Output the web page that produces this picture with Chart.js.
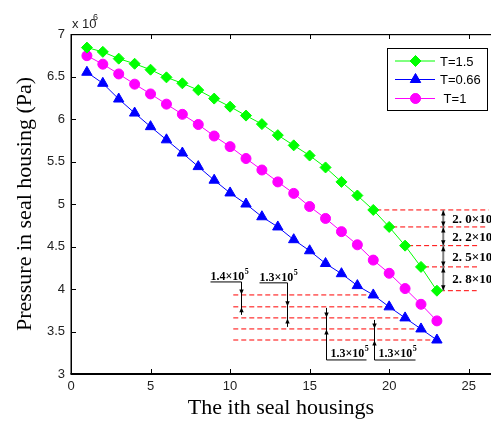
<!DOCTYPE html>
<html>
<head>
<meta charset="utf-8">
<script src="https://cdn.jsdelivr.net/npm/chart.js@4/dist/chart.umd.min.js"></script>
<style>
  html, body { margin: 0; padding: 0; background: #fff; overflow: hidden; }
  #wrap { width: 491px; height: 421px; }
</style>
</head>
<body>
<div id="wrap"><canvas id="pressureChart" width="491" height="421"></canvas></div>
<script>
// the ith seal housing
const housings = [1, 2, 3, 4, 5, 6, 7, 8, 9, 10, 11, 12, 13, 14, 15, 16, 17, 18, 19, 20, 21, 22, 23];

// pressure, x 10^6 Pa
const pressT15 = [6.84, 6.79, 6.71, 6.65, 6.58, 6.49, 6.42, 6.34, 6.24, 6.145, 6.04, 5.94,
  5.81, 5.69, 5.57, 5.43, 5.26, 5.10, 4.93, 4.73, 4.51, 4.26, 3.98];
const pressT066 = [6.55, 6.42, 6.235, 6.07, 5.91, 5.755, 5.60, 5.44, 5.28, 5.13, 5.0, 4.85,
  4.73, 4.58, 4.45, 4.30, 4.18, 4.04, 3.93, 3.79, 3.66, 3.53, 3.40];
const pressT1 = [6.745, 6.645, 6.53, 6.41, 6.295, 6.175, 6.055, 5.935, 5.80, 5.675, 5.535, 5.40,
  5.26, 5.125, 4.97, 4.83, 4.675, 4.52, 4.34, 4.185, 4.005, 3.82, 3.625];

const seriesLabels = ["T=1.5", "T=0.66", " T=1"];
const xTicks = [0, 5, 10, 15, 20, 25];
const yTicks = [3, 3.5, 4, 4.5, 5, 5.5, 6, 6.5, 7];

// pressure drop labels for the last housings
const dropLabelsT15 = ["2. 0×10", "2. 2×10", "2. 5×10", "2. 8×10"];
const dropLabelsT066 = ["1.4×10", "1.3×10", "1.3×10", "1.3×10"];

const serif = "'Liberation Serif', 'Times New Roman', serif";
const sans = "'Liberation Sans', Arial, sans-serif";

function arrowHead(ctx, x, y, dir) {
  // tip at (x, y); dir 1 = pointing down, -1 = pointing up
  ctx.beginPath();
  ctx.moveTo(x, y);
  ctx.lineTo(x - 2.2, y - dir * 5);
  ctx.lineTo(x + 2.2, y - dir * 5);
  ctx.closePath();
  ctx.fill();
}

function supText(ctx, base, sup, x, y, font, supFont) {
  ctx.font = font;
  ctx.fillText(base, x, y);
  const w = ctx.measureText(base).width;
  ctx.font = supFont;
  ctx.fillText(sup, x + w + 0.5, y - 6);
}

const annotations = {
  id: "pressureNotes",
  beforeDatasetsDraw(chart) {
    const ctx = chart.ctx;
    const xs = chart.scales.x, ys = chart.scales.y;
    ctx.save();

    // T=1.5 levels
    const gIdx = [18, 19, 20, 21, 22];
    const gEnds = [26.25, 26.15, 25.7, 25.7, 25.5];
    const gy = gIdx.map(i => ys.getPixelForValue(pressT15[i]));
    ctx.strokeStyle = "#ff0000";
    ctx.lineWidth = 1;
    ctx.setLineDash([5, 3]);
    gIdx.forEach((i, k) => {
      ctx.beginPath();
      ctx.moveTo(xs.getPixelForValue(housings[i]) + 3, gy[k]);
      ctx.lineTo(xs.getPixelForValue(gEnds[k]), gy[k]);
      ctx.stroke();
    });

    // T=0.66 levels
    const bIdx = [18, 19, 20, 21, 22];
    const by = bIdx.map(i => ys.getPixelForValue(pressT066[i]));
    bIdx.forEach((i, k) => {
      ctx.beginPath();
      ctx.moveTo(xs.getPixelForValue(10.2), by[k]);
      ctx.lineTo(xs.getPixelForValue(housings[i]), by[k]);
      ctx.stroke();
    });
    ctx.setLineDash([]);

    // gray dimension arrows for T=1.5
    const ax = xs.getPixelForValue(23.4);
    ctx.strokeStyle = "#808080";
    ctx.lineWidth = 2;
    ctx.beginPath();
    ctx.moveTo(ax, gy[0]);
    ctx.lineTo(ax, gy[4]);
    ctx.stroke();
    ctx.fillStyle = "#000";
    for (let k = 0; k < 4; k++) {
      arrowHead(ctx, ax, gy[k] + 0.5, -1);
      arrowHead(ctx, ax, gy[k + 1] - 0.5, 1);
    }
    ctx.textBaseline = "middle";
    ctx.textAlign = "left";
    const lx = xs.getPixelForValue(23.97);
    for (let k = 0; k < 4; k++) {
      const my = (gy[k] + gy[k + 1]) / 2 + 1;
      ctx.fillStyle = "#000";
      ctx.font = "bold 13px " + serif;
      ctx.fillText(dropLabelsT15[k], lx, my);
      const w = ctx.measureText(dropLabelsT15[k]).width;
      ctx.font = "bold 9px " + serif;
      ctx.fillText("5", lx + w + 0.5, my - 5);
    }

    // black dimension markers for T=0.66
    const bMarks = [
      { x: 10.67, top: by[0] - 13, bottom: by[1] + 8, labelAbove: true, lineLeft: 31 },
      { x: 13.56, top: by[1] - 24, bottom: by[2] + 9, labelAbove: true, lineLeft: 28 },
      { x: 16.03, top: by[2] - 10, bottom: by[3] + 31, labelAbove: false, lineRight: 40 },
      { x: 19.06, top: by[3] - 9, bottom: by[4] + 20, labelAbove: false, lineRight: 41 }
    ];
    ctx.strokeStyle = "#000";
    ctx.fillStyle = "#000";
    ctx.lineWidth = 1;
    ctx.textBaseline = "alphabetic";
    bMarks.forEach((m, k) => {
      const px = Math.round(xs.getPixelForValue(m.x)) + 0.5;
      ctx.beginPath();
      ctx.moveTo(px, m.top);
      ctx.lineTo(px, m.bottom);
      if (m.labelAbove) {
        ctx.moveTo(px - m.lineLeft, m.top);
        ctx.lineTo(px, m.top);
      } else {
        ctx.moveTo(px, m.bottom);
        ctx.lineTo(px + m.lineRight, m.bottom);
      }
      ctx.stroke();
      arrowHead(ctx, px, by[k] - 0.5, 1);
      arrowHead(ctx, px, by[k + 1] + 0.5, -1);
      const tx = m.labelAbove ? px - m.lineLeft : px + 4;
      const ty = m.labelAbove ? m.top - 2 : m.bottom - 3;
      supText(ctx, dropLabelsT066[k], "5", tx, ty, "bold 12px " + serif, "bold 8px " + serif);
    });

    ctx.restore();
  },
  afterDraw(chart) {
    const ctx = chart.ctx;
    const xs = chart.scales.x, ys = chart.scales.y;
    const L = xs.left, R = xs.right, T = ys.top, B = ys.bottom;
    ctx.save();

    // axes frame with inward ticks
    ctx.fillStyle = "#000";
    ctx.fillRect(L, T, R - L, 1.2);
    ctx.fillRect(L - 0.5, T, 1.5, B - T);
    ctx.fillRect(L - 0.5, B - 1, R - L + 0.5, 2);
    xTicks.forEach(v => {
      const px = Math.round(xs.getPixelForValue(v));
      ctx.fillRect(px, B - 5, 1, 5);
      ctx.fillRect(px, T, 1, 5);
    });
    yTicks.forEach(v => {
      const py = Math.round(ys.getPixelForValue(v));
      ctx.fillRect(L, py, 5, 1);
    });

    // exponent label
    ctx.fillStyle = "#222";
    ctx.textAlign = "left";
    ctx.textBaseline = "alphabetic";
    ctx.font = "13px " + sans;
    ctx.fillText("x 10", L + 1, 28);
    ctx.font = "9px " + sans;
    ctx.fillText("6", L + 22, 20);

    // legend box
    const bx = 387, bw = 100, bTop = 48, bh = 62;
    ctx.fillStyle = "#fff";
    ctx.fillRect(bx, bTop, bw, bh);
    ctx.strokeStyle = "#000";
    ctx.lineWidth = 1;
    ctx.strokeRect(bx + 0.5, bTop + 0.5, bw, bh);
    const rows = [61, 79.5, 98.5];
    chart.data.datasets.forEach((ds, k) => {
      const y = rows[k];
      ctx.strokeStyle = ds.borderColor;
      ctx.lineWidth = 1;
      ctx.beginPath();
      ctx.moveTo(395, y);
      ctx.lineTo(435, y);
      ctx.stroke();
      ctx.fillStyle = ds.backgroundColor;
      Chart.helpers.drawPoint(ctx, {
        pointStyle: ds.pointStyle, radius: ds.pointRadius, borderWidth: 1, rotation: 0
      }, 415.5, y);
      ctx.fill();
      ctx.fillStyle = "#000";
      ctx.font = "13px " + sans;
      ctx.textBaseline = "middle";
      ctx.fillText(ds.label, 440, y + 1);
    });

    ctx.restore();
  }
};

new Chart(document.getElementById("pressureChart"), {
  type: "line",
  data: {
    datasets: [
      {
        label: seriesLabels[0],
        data: housings.map((h, i) => ({ x: h, y: pressT15[i] })),
        borderColor: "#00ff00",
        backgroundColor: "#00ff00",
        pointStyle: "rectRot",
        pointRadius: 5.5
      },
      {
        label: seriesLabels[1],
        data: housings.map((h, i) => ({ x: h, y: pressT066[i] })),
        borderColor: "#0000ff",
        backgroundColor: "#0000ff",
        pointStyle: "triangle",
        pointRadius: 6
      },
      {
        label: seriesLabels[2],
        data: housings.map((h, i) => ({ x: h, y: pressT1[i] })),
        borderColor: "#ff00ff",
        backgroundColor: "#ff00ff",
        pointStyle: "circle",
        pointRadius: 5
      }
    ]
  },
  options: {
    responsive: false,
    animation: false,
    devicePixelRatio: 1,
    layout: { autoPadding: false, padding: { top: 34, left: 0, right: 0, bottom: 0 } },
    elements: {
      line: { borderWidth: 1, tension: 0 },
      point: { borderWidth: 1, hoverRadius: 5 }
    },
    plugins: {
      legend: { display: false },
      tooltip: { enabled: false }
    },
    scales: {
      x: {
        type: "linear",
        min: 0,
        max: 26.4,
        grid: { display: false, drawTicks: false },
        border: { display: false },
        afterBuildTicks: s => { s.ticks = xTicks.map(v => ({ value: v })); },
        afterFit: s => { s.height = 47; s.paddingLeft = 0; s.paddingRight = 0; },
        ticks: { color: "#222", font: { family: sans, size: 13 }, padding: 5, maxRotation: 0 },
        title: {
          display: true,
          text: "The ith seal housings",
          color: "#000",
          font: { family: serif, size: 22 },
          padding: { top: 0, bottom: 0 }
        }
      },
      y: {
        min: 3,
        max: 7,
        grid: { display: false, drawTicks: false },
        border: { display: false },
        afterBuildTicks: s => { s.ticks = yTicks.map(v => ({ value: v })); },
        afterFit: s => { s.width = 71; s.paddingTop = 0; s.paddingBottom = 0; },
        ticks: {
          color: "#222",
          font: { family: sans, size: 13 },
          padding: 6,
          callback: v => String(v)
        },
        title: {
          display: true,
          text: "Pressure in seal housing (Pa)",
          color: "#000",
          font: { family: serif, size: 22 },
          padding: { top: 12, bottom: 0 }
        }
      }
    }
  },
  plugins: [annotations]
});
</script>
</body>
</html>
